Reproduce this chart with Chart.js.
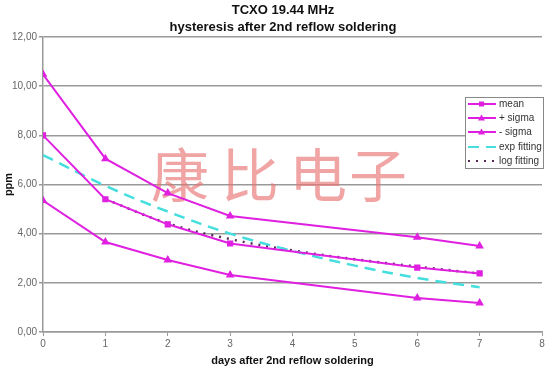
<!DOCTYPE html>
<html>
<head>
<meta charset="utf-8">
<script src="https://cdn.jsdelivr.net/npm/chart.js@4/dist/chart.umd.min.js"></script>
<style>
  html, body { margin: 0; padding: 0; background: #fff; }
  #wrap { width: 560px; height: 368px; }
</style>
</head>
<body>
<div id="wrap"><canvas id="myChart" width="560" height="368"></canvas></div>
<script>
// data
const days = [0, 1, 2, 3, 6, 7];
const meanValues = [8.0, 5.4, 4.38, 3.6, 2.62, 2.38];
const plusSigma = [10.48, 7.05, 5.65, 4.72, 3.85, 3.5];
const minusSigma = [5.35, 3.66, 2.93, 2.32, 1.38, 1.18];

const fitDays = [0, 1, 2, 3, 4, 5, 6, 7];
const expFit = [7.2, 5.95, 4.9, 4.0, 3.3, 2.7, 2.2, 1.82];
const logDays = [1, 2, 3, 4, 5, 6, 7];
const logFit = [5.4, 4.42, 3.78, 3.32, 2.96, 2.66, 2.38];

const xTicks = ['0', '1', '2', '3', '4', '5', '6', '7', '8'];
const titleLines = ['TCXO 19.44 MHz', 'hysteresis after 2nd reflow soldering'];
const watermark = '康比电子';

const magenta = '#e020e0';

function pts(xs, ys) {
    return xs.map((x, i) => ({ x: x, y: ys[i] }));
}

// title, watermark and legend box drawn by hand
const decor = {
    id: 'decor',
    beforeDatasetsDraw(chart) {
        const c = chart.ctx;
        c.save();
        c.fillStyle = 'rgba(232, 115, 115, 0.65)';
        c.font = '400 58px "Noto Sans CJK SC"';
        c.textBaseline = 'middle';
        c.textAlign = 'center';
        const xs = [180, 250, 318, 378];
        for (let i = 0; i < watermark.length; i++) {
            c.fillText(watermark[i], xs[i], 175);
        }
        c.restore();
    },
    afterDraw(chart) {
        const c = chart.ctx;
        c.save();
        c.fillStyle = '#111';
        c.font = 'bold 13px "Liberation Sans", Arial';
        c.textAlign = 'center';
        c.textBaseline = 'middle';
        c.fillText(titleLines[0], 283, 10);
        c.fillText(titleLines[1], 283, 27);

        // legend
        c.fillStyle = '#fff';
        c.fillRect(465, 97, 78, 71);
        c.strokeStyle = '#888';
        c.lineWidth = 1;
        c.strokeRect(465.5, 97.5, 78, 71);
        const rows = [104, 118, 132, 147, 161];
        chart.data.datasets.forEach((ds, i) => {
            const y = rows[i];
            c.strokeStyle = ds.borderColor;
            c.lineWidth = 2;
            c.setLineDash(ds.borderDash || []);
            c.beginPath();
            c.moveTo(468, y);
            c.lineTo(496, y);
            c.stroke();
            c.setLineDash([]);
            if (ds.pointRadius > 0) {
                c.fillStyle = ds.borderColor;
                if (ds.pointStyle === 'rect') {
                    c.fillRect(479, y - 2.5, 5, 5);
                } else {
                    c.beginPath();
                    c.moveTo(481.5, y - 3.5);
                    c.lineTo(485, y + 2.5);
                    c.lineTo(478, y + 2.5);
                    c.closePath();
                    c.fill();
                }
            }
            c.fillStyle = '#333';
            c.font = '10px "Liberation Sans", Arial';
            c.textAlign = 'left';
            c.fillText(ds.label, 499, y);
        });
        c.restore();
    }
};

const ctx = document.getElementById('myChart').getContext('2d');

const myChart = new Chart(ctx, {
    type: 'scatter',
    data: {
        datasets: [
            {
                label: 'mean',
                data: pts(days, meanValues),
                showLine: true,
                borderColor: magenta,
                backgroundColor: magenta,
                borderWidth: 2,
                pointStyle: 'rect',
                pointRadius: 3
            },
            {
                label: '+ sigma',
                data: pts(days, plusSigma),
                showLine: true,
                borderColor: magenta,
                backgroundColor: magenta,
                borderWidth: 2,
                pointStyle: 'triangle',
                pointRadius: 3
            },
            {
                label: '- sigma',
                data: pts(days, minusSigma),
                showLine: true,
                borderColor: magenta,
                backgroundColor: magenta,
                borderWidth: 2,
                pointStyle: 'triangle',
                pointRadius: 3
            },
            {
                label: 'exp fitting',
                data: pts(fitDays, expFit),
                showLine: true,
                borderColor: '#45dede',
                backgroundColor: '#45dede',
                borderWidth: 2.5,
                borderDash: [11, 7],
                tension: 0.4,
                pointRadius: 0
            },
            {
                label: 'log fitting',
                data: pts(logDays, logFit),
                showLine: true,
                borderColor: '#5a2a5a',
                backgroundColor: '#5a2a5a',
                borderWidth: 2.5,
                borderDash: [2, 6],
                tension: 0.4,
                pointRadius: 0
            }
        ]
    },
    options: {
        responsive: false,
        animation: false,
        layout: {
            padding: { left: 0, right: 18, top: 37, bottom: 0 }
        },
        plugins: {
            legend: { display: false },
            title: { display: false },
            tooltip: { enabled: false }
        },
        scales: {
            x: {
                type: 'linear',
                min: 0,
                max: 8,
                ticks: {
                    stepSize: 1,
                    color: '#666',
                    font: { size: 10, family: '"Liberation Sans", Arial' },
                    padding: 2,
                    callback: (v) => xTicks[v]
                },
                grid: {
                    drawOnChartArea: false,
                    color: '#999',
                    tickLength: 4
                },
                border: { color: '#999', width: 1.5 },
                title: {
                    display: true,
                    text: 'days after 2nd reflow soldering',
                    color: '#111',
                    font: { size: 11, weight: 'bold', family: '"Liberation Sans", Arial' },
                    padding: { top: 3, bottom: 0 }
                },
                afterFit: (s) => { s.height = 36; }
            },
            y: {
                min: 0,
                max: 12,
                ticks: {
                    stepSize: 2,
                    color: '#666',
                    font: { size: 10, family: '"Liberation Sans", Arial' },
                    padding: 2,
                    callback: (v) => v.toFixed(2).replace('.', ',')
                },
                grid: {
                    color: '#999',
                    lineWidth: 1.5,
                    tickLength: 4
                },
                border: { color: '#999', width: 1.5 },
                title: {
                    display: true,
                    text: 'ppm',
                    color: '#111',
                    font: { size: 11, weight: 'bold', family: '"Liberation Sans", Arial' },
                    padding: { top: 2, bottom: 0 }
                },
                afterFit: (s) => { s.width = 43; }
            }
        }
    },
    plugins: [decor]
});
</script>
</body>
</html>
